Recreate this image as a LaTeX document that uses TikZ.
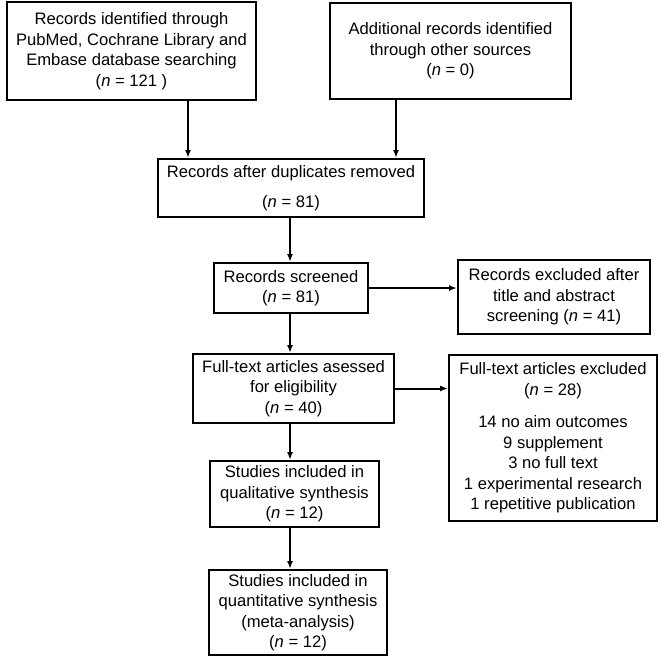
\documentclass[tikz,border=0pt]{standalone}
\usepackage{fontspec}
\setmainfont{Liberation Sans}
\usetikzlibrary{arrows.meta}
\begin{document}
\begin{tikzpicture}[x=1pt,y=-1pt,
  box/.style={draw, line width=2pt, rectangle, inner sep=0pt, align=center,
    font=\fontsize{16.6}{20.5}\selectfont},
  arr/.style={line width=2pt, -{Latex[length=8pt,width=6pt]}}]
\useasboundingbox (0,0) rectangle (660,659);
\node[box, minimum width=249pt, minimum height=98pt] (b1) at (131.5,51)
  {Records identified through\\PubMed, Cochrane Library and\\Embase database searching\\(\textit{n} = 121 )};
\node[box, minimum width=241pt, minimum height=96pt] (b2) at (450.5,51)
  {Additional records identified\\through other sources\\(\textit{n} = 0)};
\node[box, minimum width=266pt, minimum height=58pt] (b3) at (291,188)
  {Records after duplicates removed\\[10pt](\textit{n} = 81)};
\node[box, minimum width=154pt, minimum height=50pt] (b4) at (291,288)
  {Records screened\\(\textit{n} = 81)};
\node[box, minimum width=192pt, minimum height=74pt] (b5) at (554,297)
  {Records excluded after\\title and abstract\\screening (\textit{n} = 41)};
\node[box, minimum width=201pt, minimum height=69pt] (b6) at (293.5,388.5)
  {Full-text articles asessed\\for eligibility\\(\textit{n} = 40)};
\node[box, minimum width=208pt, minimum height=166pt] (bx) at (553,438)
  {Full-text articles excluded\\(\textit{n} = 28)\\[12pt]14 no aim outcomes\\9 supplement\\3 no full text\\1 experimental research\\1 repetitive publication};
\node[box, minimum width=169pt, minimum height=66pt] (b7) at (294.5,494)
  {Studies included in\\qualitative synthesis\\(\textit{n} = 12)};
\node[box, minimum width=178pt, minimum height=85pt] (b8) at (298,612.5)
  {Studies included in\\quantitative synthesis\\(meta-analysis)\\(\textit{n} = 12)};
\coordinate (xa) at (188,0);
\coordinate (xb) at (396,0);
\coordinate (xm) at (290,0);
\draw[arr] (b1.south -| xa) -- (b3.north -| xa);
\draw[arr] (b2.south -| xb) -- (b3.north -| xb);
\draw[arr] (b3.south -| xm) -- (b4.north -| xm);
\draw[arr] (b4.south -| xm) -- (b6.north -| xm);
\draw[arr] (b6.south -| xm) -- (b7.north -| xm);
\draw[arr] (b7.south -| xm) -- (b8.north -| xm);
\draw[arr] (b4.east) -- (b4.east -| b5.west);
\draw[arr] (b6.east) -- (b6.east -| bx.west);
\end{tikzpicture}
\end{document}
